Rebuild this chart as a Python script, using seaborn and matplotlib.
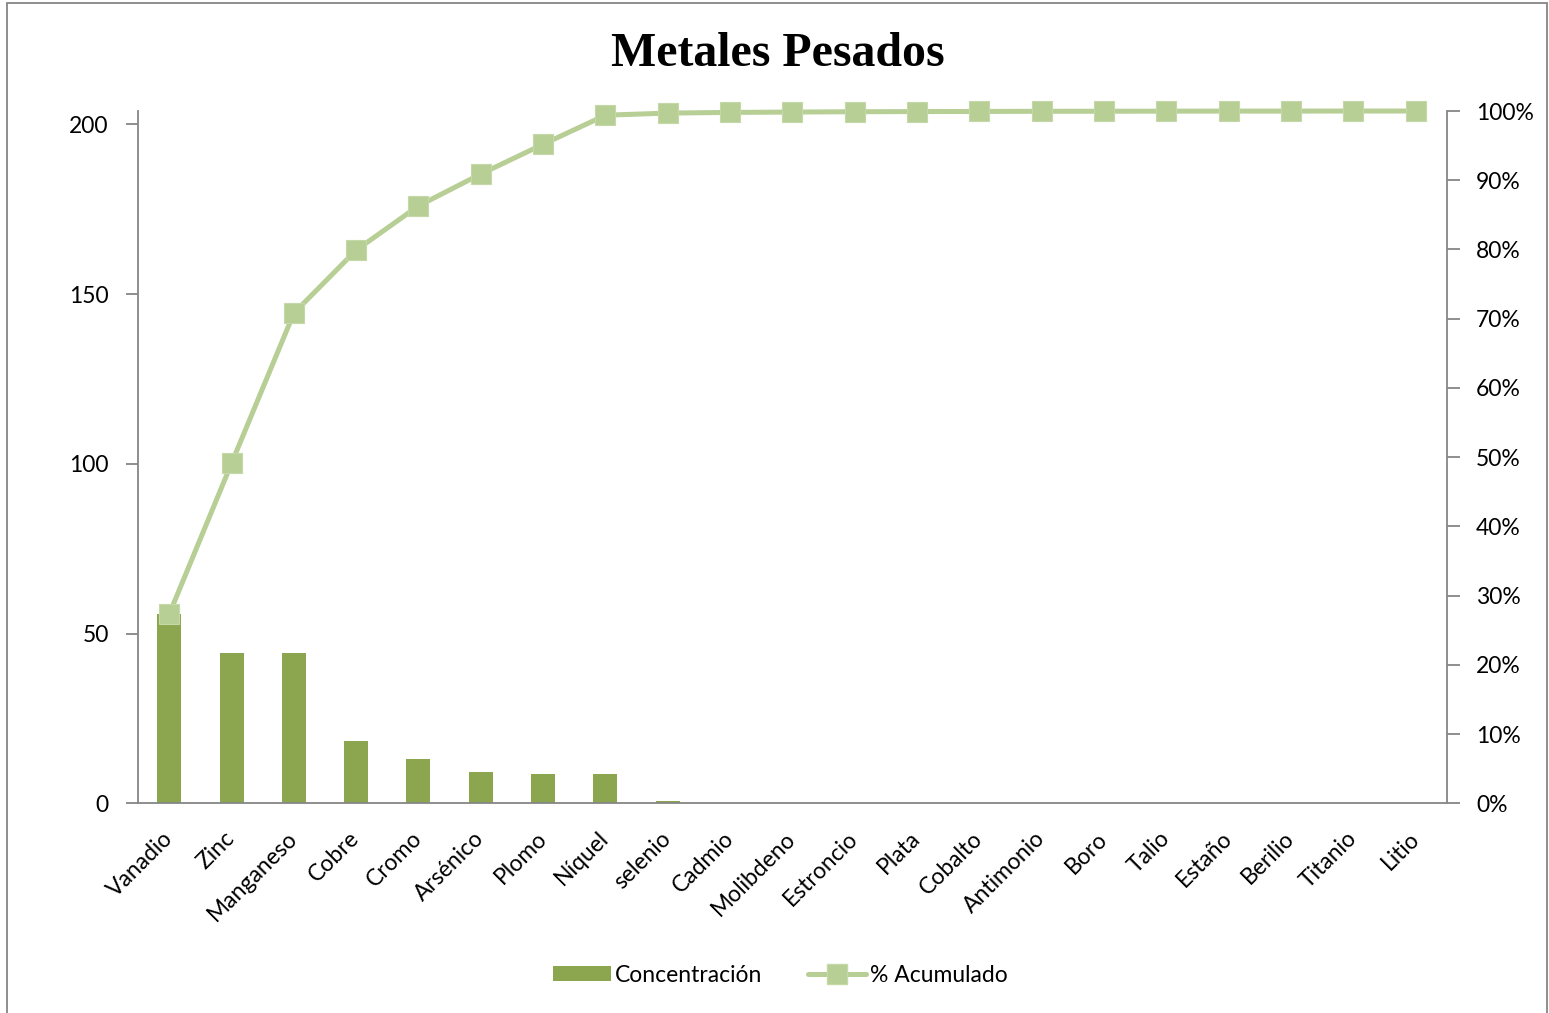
import matplotlib
matplotlib.use("Agg")
import matplotlib.pyplot as plt
from matplotlib.patches import Patch, Rectangle
from matplotlib.lines import Line2D
from matplotlib.ticker import PercentFormatter
import seaborn as sns
import pandas as pd

# Heavy-metal concentrations, sorted descending (Pareto order)
metales = ["Vanadio", "Zinc", "Manganeso", "Cobre", "Cromo", "Arsénico", "Plomo",
           "Níquel", "selenio", "Cadmio", "Molibdeno", "Estroncio", "Plata", "Cobalto",
           "Antimonio", "Boro", "Talio", "Estaño", "Berilio", "Titanio", "Litio"]
concentracion = [55.7, 44.2, 44.2, 18.3, 13.0, 9.1, 8.5, 8.5, 0.6, 0.2, 0.1, 0.08,
                 0.06, 0.05, 0.04, 0.03, 0.02, 0.01, 0.01, 0.005, 0.003]
# Cumulative share (fraction of total)
acumulado = [0.273, 0.491, 0.708, 0.799, 0.863, 0.909, 0.952, 0.994, 0.997, 0.998,
             0.9985, 0.999, 0.9992, 0.9994, 0.9996, 0.9997, 0.9998, 0.9999, 0.9999,
             1.0, 1.0]
left_ticks = [0, 50, 100, 150, 200]
right_ticks = [0.0, 0.1, 0.2, 0.3, 0.4, 0.5, 0.6, 0.7, 0.8, 0.9, 1.0]

df = pd.DataFrame({"Metal": metales, "Concentración": concentracion,
                   "Acumulado": acumulado})

BAR = "#8BA64F"
LINE = "#B7CE95"
AXIS = "#868686"
FONT = ["Lato", "DejaVu Sans"]

sns.set_theme(style="white")
plt.rcParams["font.family"] = FONT
plt.rcParams["text.color"] = "black"

fig = plt.figure(figsize=(15.49, 10.13), dpi=100)
ax = fig.add_axes([0.0891, 0.2070, 0.8450, 0.6834])

sns.barplot(data=df, x="Metal", y="Concentración", color=BAR, width=0.385,
            saturation=1, edgecolor="none", ax=ax)

ax2 = ax.twinx()
sns.pointplot(data=df, x="Metal", y="Acumulado", color=LINE, markers="s",
              linestyles="-", markersize=14, linewidth=3.6, ax=ax2)
for ln in ax2.lines:
    ln.set_markeredgecolor("#C4D8A8")
    ln.set_markeredgewidth(0.8)
    ln.set_solid_capstyle("round")
    ln.set_clip_on(False)

n = len(metales)
for a in (ax, ax2):
    a.set_xlim(-0.5, n - 0.5)
    a.set_xlabel("")
    a.set_ylabel("")
ax.set_ylim(0, 203.9)
ax2.set_ylim(0, 1.0)

ax.set_yticks(left_ticks)
ax2.set_yticks(right_ticks)
ax2.yaxis.set_major_formatter(PercentFormatter(1.0, decimals=0))

# category boundary ticks on x
ax.set_xticks([i - 0.5 for i in range(n + 1)], minor=False)
ax.set_xticklabels([""] * (n + 1))
ax.set_xticks(range(n), minor=True)
ax.set_xticklabels(metales, minor=True, rotation=45, ha="right", va="center",
                   rotation_mode="anchor", fontsize=16.5)
ax.tick_params(axis="x", which="minor", length=0, pad=23, labelcolor="black")
ax.tick_params(axis="x", which="major", length=9, width=1.3, color=AXIS, direction="out")
ax.tick_params(axis="y", length=9, width=1.3, color=AXIS, direction="out",
               labelsize=16.5, pad=12, labelcolor="black")
ax2.tick_params(axis="y", length=9, width=1.3, color=AXIS, direction="out",
                labelsize=16.5, pad=12, labelcolor="black")
ax.grid(False)
ax2.grid(False)

for a in (ax, ax2):
    for s in a.spines.values():
        s.set_visible(False)
ax.spines["left"].set_visible(True)
ax.spines["bottom"].set_visible(True)
ax2.spines["right"].set_visible(True)
for s in (ax.spines["left"], ax.spines["bottom"], ax2.spines["right"]):
    s.set_color(AXIS)
    s.set_linewidth(1.3)

fig.text(0.5023, 0.9465, "Metales Pesados", ha="center", va="center", color="black",
         fontsize=34.5, fontweight="bold", family=["Liberation Serif", "DejaVu Serif"])

handles = [Patch(facecolor=BAR, edgecolor="none", label="Concentración"),
           Line2D([0], [0], color=LINE, lw=3.6, marker="s", markersize=14,
                  markeredgecolor="#C4D8A8", label="% Acumulado")]
fig.legend(handles=handles, loc="center", bbox_to_anchor=(0.504, 0.0375), ncol=2,
           frameon=False, fontsize=16.5, handlelength=2.5, handleheight=0.6,
           handletextpad=0.2, columnspacing=2.0, labelcolor="black")

# chart-area frame
fig.patches.append(Rectangle((7.5 / 1549, -0.05), (1547 - 7.5) / 1549,
                             (1013 - 2.5) / 1013 + 0.05, transform=fig.transFigure,
                             fill=False, edgecolor=AXIS, linewidth=1.3))

fig.savefig("out.png", dpi=100)
